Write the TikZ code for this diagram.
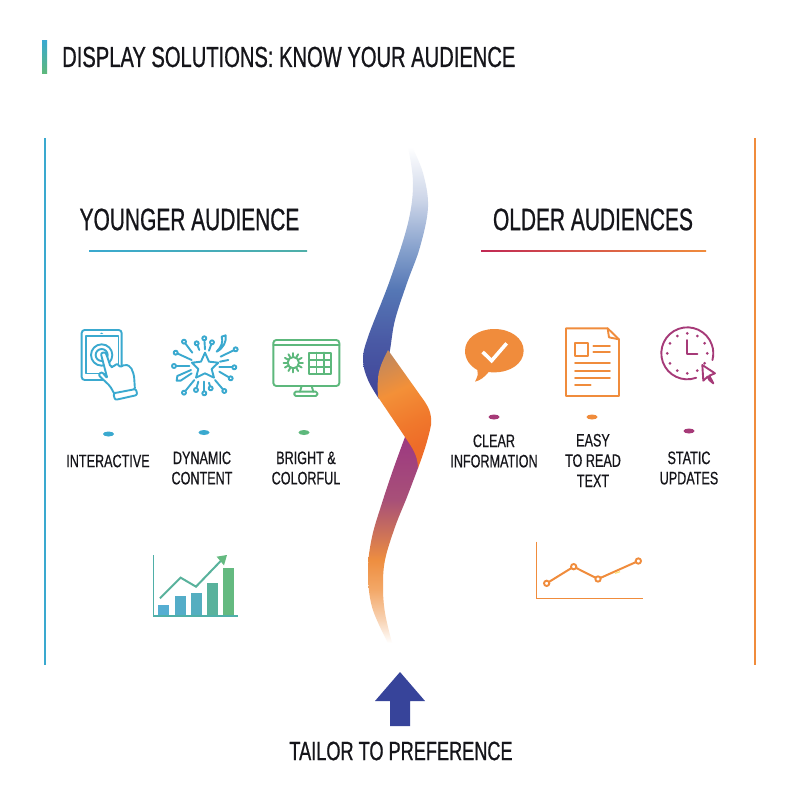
\documentclass[tikz,border=0pt]{standalone}
\usepackage{fontspec}
\newfontfamily\cond[FakeStretch=0.695,FakeBold=0.7]{Liberation Sans}
\newfontfamily\condhdg[FakeStretch=0.675,FakeBold=0.7]{Liberation Sans}
\newfontfamily\condlbl[FakeStretch=0.70,FakeBold=0.5]{Liberation Sans}
\newfontfamily\condtail[FakeStretch=0.685,FakeBold=0.7]{Liberation Sans}
\usetikzlibrary{shapes.geometric}
\definecolor{cblue}{HTML}{3AA9CF}
\definecolor{cgreen}{HTML}{5DB87C}
\definecolor{corange}{HTML}{F08C3C}
\definecolor{cpurple}{HTML}{A63A78}
\definecolor{cink}{HTML}{15151A}
\definecolor{cteal}{HTML}{4FAFA8}
\definecolor{cnavy}{HTML}{37449A}
\definecolor{bara}{HTML}{55AED2}
\definecolor{barb}{HTML}{54ADC8}
\definecolor{barc}{HTML}{54AEC0}
\definecolor{bard}{HTML}{59B29C}
\definecolor{bare}{HTML}{64BA80}
\definecolor{rba}{HTML}{3F4398}
\definecolor{rbb}{HTML}{4A5AA5}
\definecolor{rbc}{HTML}{5577B5}
\definecolor{rbd}{HTML}{85A0CC}
\definecolor{rbe}{HTML}{CCD5E8}
\definecolor{rfa}{HTML}{EE6C28}
\definecolor{rfb}{HTML}{F0782C}
\definecolor{rfc}{HTML}{F39038}
\definecolor{rfd}{HTML}{C4885A}
\definecolor{rla}{HTML}{F8D3B4}
\definecolor{rlb}{HTML}{F3A868}
\definecolor{rlc}{HTML}{EE8E40}
\definecolor{rld}{HTML}{C86E5C}
\definecolor{rle}{HTML}{A85078}
\definecolor{rlf}{HTML}{9E3C80}
\pgfdeclareverticalshading{ribbontop}{100bp}{color(0bp)=(rba);color(25bp)=(rba);color(36.7bp)=(rbb);color(46.6bp)=(rbc);color(54.6bp)=(rbd);color(64.5bp)=(rbe);color(75bp)=(white);color(100bp)=(white)}
\pgfdeclareverticalshading{ribbonfold}{100bp}{color(0bp)=(rfa);color(30bp)=(rfa);color(42bp)=(rfb);color(60bp)=(rfc);color(78bp)=(rfd);color(100bp)=(rfd)}
\pgfdeclareverticalshading{ribbonlow}{100bp}{color(0bp)=(white);color(25bp)=(white);color(30.6bp)=(rla);color(37.9bp)=(rlb);color(45.1bp)=(rlc);color(52.4bp)=(rld);color(59.7bp)=(rle);color(73bp)=(rlf);color(100bp)=(rlf)}
\tikzset{
  ttl/.style={font=\cond\fontsize{29}{30}\selectfont,text=cink,anchor=west,inner sep=0pt},
  hdg/.style={font=\condhdg\fontsize{31}{32}\selectfont,text=cink,inner sep=0pt},
  lbl/.style={font=\condlbl\fontsize{18}{20.3}\selectfont,text=cink,align=center,inner sep=0pt},
  dotmark/.style={ellipse,inner sep=0pt,minimum width=11pt,minimum height=5pt},
  zoomed/.style={x=0.3333pt,y=-0.3333pt},
  ic/.style={line width=1.9pt,line join=round,line cap=round},
}
\begin{document}
\begin{tikzpicture}[x=1pt,y=-1pt]
\useasboundingbox (0,0) rectangle (800,800);
\fill[white] (0,0) rectangle (800,800);
% title
\path[top color=cblue,bottom color=cgreen] (42,41) rectangle (47,73);
\node[ttl] (title) at (62,57) {DISPLAY SOLUTIONS: KNOW YOUR AUDIENCE};
% frame lines
\draw[cblue,line width=1.4pt] (45,138) -- (45,665);
\draw[corange,line width=1.4pt] (755,138) -- (755,665);
% headings
\node[hdg] (young) at (189.5,219.5) {YOUNGER AUDIENCE};
\node[hdg] (old) at (593,219.5) {OLDER AUDIENCES};
\path[left color=cblue,right color=cteal] (89,250.4) rectangle (307,251.9);
\path[left color=cpurple!70!red,right color=corange] (481,250.4) rectangle (706,251.9);
% ribbon
\path[shading=ribbontop]
  plot[smooth,tension=0.6] coordinates {(408,147) (413,183) (408,223) (390,280) (368,337) (363,360) (368,380) (379,399)}
  -- plot[smooth,tension=0.6] coordinates {(385,396) (385,375) (390,350) (395,320) (407,283) (420,247) (428,207) (423,173) (412,147)}
  -- cycle;
\path[shading=ribbonlow]
  plot[smooth,tension=0.6] coordinates {(405,437) (393,470) (382,503) (372,537) (368,570) (372,607) (388,643)}
  -- plot[smooth,tension=0.6] coordinates {(392,643) (385,613) (383,587) (385,560) (395,527) (407,497) (418,468)}
  -- (420,440) -- cycle;
\path[shading=ribbonfold,shading angle=25]
  (388,350) .. controls (383,360) and (378,370) .. (378,380)
  .. controls (377,388) and (378,392) .. (378,397)
  -- (405,437) .. controls (411,446) and (418,455) .. (418,468)
  .. controls (423,455) and (428,440) .. (431,425)
  .. controls (432,415) and (429,408) .. (425,402)
  -- cycle;
% arrow
\fill[cnavy] (400,672) -- (425,701) -- (410,701) -- (410,726) -- (390,726) -- (390,701) -- (375,701) -- cycle;
\node[font=\condtail\fontsize{26.5}{28}\selectfont,text=cink,inner sep=0pt] (tailor) at (401,751) {TAILOR TO PREFERENCE};
% labels
\node[lbl] (l1) at (108,461) {INTERACTIVE};
\node[lbl] (l2) at (202,468) {DYNAMIC\\CONTENT};
\node[lbl] (l3) at (306,468) {BRIGHT \&\\COLORFUL};
\node[lbl] (r1) at (494,451) {CLEAR\\INFORMATION};
\node[lbl] (r2) at (593,460.5) {EASY\\TO READ\\TEXT};
\node[lbl] (r3) at (689,468) {STATIC\\UPDATES};
% dots
\node[dotmark,fill=cblue] (d1) at (108.5,434) {};
\node[dotmark,fill=cblue] (d2) at (204,432.5) {};
\node[dotmark,fill=cgreen] (d3) at (304,432.5) {};
\node[dotmark,fill=cpurple] (d4) at (494,417) {};
\node[dotmark,fill=corange] (d5) at (592,417) {};
\node[dotmark,fill=cpurple] (d6) at (689,431) {};
% left icons
\begin{scope}[shift={(60,310)},zoomed,ic]
  % tablet
  \draw[rounded corners=3pt,cblue] (65,60) rectangle (185,210);
  \draw[cblue,line width=1.2pt] (78,78) rectangle (175,190);
  \fill[cblue] (125,70) ellipse (5 and 2);
  \draw[cblue] (125,135) circle[radius=32];
  \draw[cblue] (125,135) circle[radius=18];
  % hand
  \filldraw[cblue,fill=white,rounded corners=2pt]
    (115,195) -- (150,228) -- (165,255) -- (225,240) -- (222,195) -- (212,170)
    -- (195,163) -- (180,172) -- (172,160) -- (160,170) -- (152,172)
    -- (140,135) .. controls (135,125) and (122,128) .. (125,140)
    -- (142,205) -- (125,185) -- cycle;
  \filldraw[cblue,fill=white,rounded corners=2pt] (160,250) -- (228,237) -- (232,255) -- (165,270) -- cycle;
  % star
  \draw[cblue] (435,128) -- (447,155) -- (475,158) -- (455,177) -- (462,203) -- (435,190)
     -- (408,203) -- (415,177) -- (396,158) -- (423,155) -- cycle;
  \foreach \xa/\ya/\xb/\yb in {397/128/372/95,435/118/433/85,482/140/527/118,478/172/523/172,478/185/512/205,465/210/493/243,433/215/433/250,403/210/372/248,388/168/342/168,395/150/347/128,418/120/410/100,447/122/456/97,447/218/452/235,415/215/408/240}{
    \draw[cblue] (\xa,\ya) -- (\xb,\yb);
    \filldraw[cblue,fill=white] (\xb,\yb) circle[radius=6];
  }
  \draw[cblue] (480,155) -- (505,150);
  \draw[cblue] (470,125) .. controls (485,110) and (490,95) .. (485,80) -- (497,76) .. controls (500,95) and (490,115) .. (470,125);
  \draw[cblue] (393,180) -- (352,198) -- (350,212) -- (362,212) -- (395,190);
  % monitor
  \draw[cgreen,rounded corners=3pt] (640,90) rectangle (838,228);
  \draw[cgreen] (640,105) -- (838,105);
  \draw[cgreen] (725,228) -- (720,245) (755,228) -- (760,245);
  \draw[cgreen,rounded corners=1.5pt] (703,245) rectangle (772,258);
  \draw[cgreen] (700,158) circle[radius=17];
  \foreach \a in {0,30,...,330}{\draw[cgreen] ([shift={(700,158)}]\a:17) -- ([shift={(700,158)}]\a:29);}
  \draw[cgreen] (748,128) rectangle (813,192);
  \foreach \k in {769.7,791.3}{\draw[cgreen] (\k,128) -- (\k,192);}
  \foreach \k in {149.3,170.7}{\draw[cgreen] (748,\k) -- (813,\k);}
\end{scope}
% right icons
\begin{scope}[shift={(440,310)},zoomed,ic]
  \fill[corange] (105,215) .. controls (115,195) and (115,190) .. (112,180)
    .. controls (90,168) and (75,148) .. (75,122)
    .. controls (75,85) and (115,57) .. (163,57)
    .. controls (212,57) and (251,85) .. (251,122)
    .. controls (251,160) and (212,187) .. (163,187)
    .. controls (158,187) and (152,187) .. (146,186)
    .. controls (135,200) and (120,212) .. (105,215) -- cycle;
  \draw[white,line width=3.6pt,line cap=butt,line join=miter] (128,126) -- (155,152) -- (200,100);
  \draw[corange] (378,55) -- (503,55) -- (537,88) -- (537,258) -- (378,258) -- cycle;
  \draw[corange] (503,55) -- (507,82) -- (537,88);
  \draw[corange] (405,100) rectangle (443,137);
  \foreach \ya/\xa/\xb in {108/460/510,127/460/510,160/405/510,182/405/510,203/405/510,225/405/452}{\draw[corange] (\xa,\ya) -- (\xb,\ya);}
  \draw[cpurple] ([shift={(742,130)}]70:78) arc[start angle=70,end angle=375,radius=78];
  \foreach \a in {0,30,...,330}{\fill[cpurple] ([shift={(742,130)}]\a:60) circle[radius=4.5];}
  \draw[cpurple] (742,90) -- (742,132) -- (772,132);
  \draw[cpurple] (787,165) -- (825,190) -- (808,197) -- (820,220) -- (808,210) -- (803,200) -- (790,212) -- cycle;
\end{scope}
% bar chart
\begin{scope}[shift={(140,540)},zoomed]
  \draw[cteal,line width=1.6pt] (40,45) -- (40,228) -- (295,228);
  \fill[bara] (55,195) rectangle (88,226);
  \fill[barb] (104,167) rectangle (137,226);
  \fill[barc] (153,160) rectangle (186,226);
  \fill[bard] (202,130) rectangle (235,226);
  \fill[bare] (250,84) rectangle (283,226);
  \draw[bard,line width=2pt,line join=miter] (60,175) -- (122,113) -- (168,140) -- (245,60);
  \fill[bare] (230,50) -- (261,45) -- (252,76) -- cycle;
\end{scope}
% line chart
\begin{scope}[shift={(525,530)},zoomed]
  \draw[corange,line width=1.6pt] (35,35) -- (35,205) -- (353,205);
  \draw[corange,line width=2pt] (65,160) -- (146,110) -- (219,147) -- (340,93);
  \draw[corange!40!yellow!60!white,line width=1.2pt] (270,130) -- (285,125);
  \foreach \xa/\ya in {65/160,146/110,219/147,340/93}{\filldraw[corange,fill=white,line width=1.9pt] (\xa,\ya) circle[radius=8];}
\end{scope}
\end{tikzpicture}
\end{document}
